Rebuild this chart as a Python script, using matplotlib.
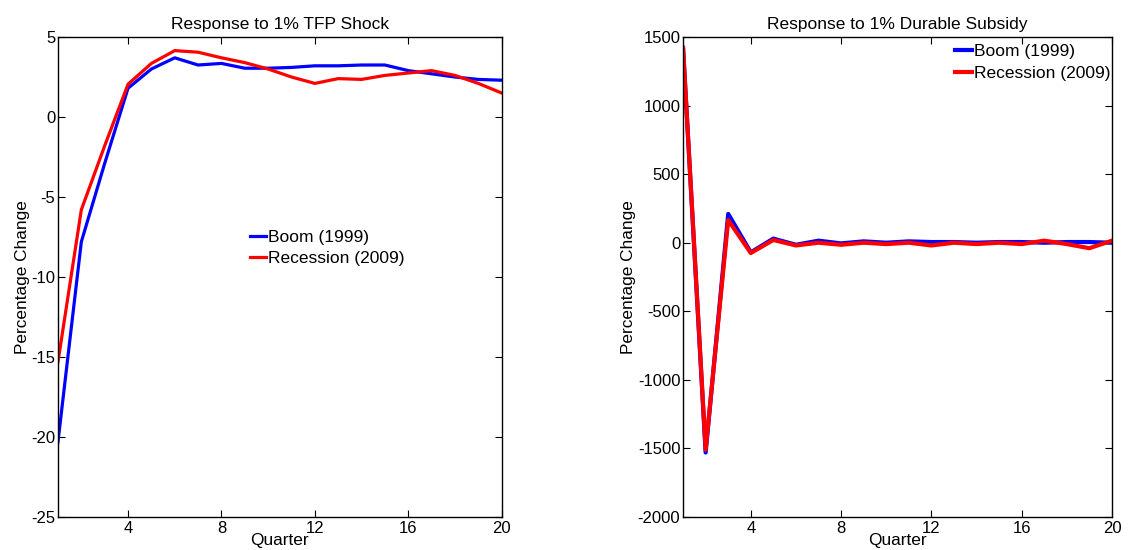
import numpy as np
import matplotlib
matplotlib.use('Agg')
import matplotlib.pyplot as plt

plt.rcParams['font.family'] = ['Liberation Sans', 'DejaVu Sans']
plt.rcParams['axes.unicode_minus'] = False

quarters = np.arange(1, 21)

# Response to TFP shock
tfp_boom = [-20.3, -7.8, -2.9, 1.8, 3.0, 3.7, 3.25, 3.35, 3.05, 3.05,
            3.1, 3.2, 3.2, 3.25, 3.25, 2.9, 2.7, 2.5, 2.35, 2.3]
tfp_recession = [-15.3, -5.8, -1.8, 2.05, 3.35, 4.15, 4.05, 3.7, 3.4, 3.0,
                 2.5, 2.1, 2.4, 2.35, 2.6, 2.75, 2.9, 2.6, 2.1, 1.5]

# Response to durable subsidy
sub_boom = [1420, -1530, 210, -70, 30, -15, 15, -5, 10, 0,
            10, 5, 5, 0, 5, 5, 0, 5, 5, 0]
sub_recession = [1420, -1510, 165, -75, 20, -20, 0, -15, 0, -10,
                 0, -20, 0, -10, 0, -10, 15, -10, -40, 15]

series_labels = ['Boom (1999)', 'Recession (2009)']
xticks = [4, 8, 12, 16, 20]

fig = plt.figure(figsize=(11.48, 5.5), dpi=100)
ax1 = fig.add_axes([0.0505, 0.06, 0.3865, 0.8727])
ax2 = fig.add_axes([0.595, 0.06, 0.3736, 0.8727])


def style_axis(ax, title, ylim, yticks):
    ax.set_xlim(1, 20)
    ax.set_ylim(*ylim)
    ax.set_xticks(xticks)
    ax.set_yticks(yticks)
    ax.tick_params(direction='in', top=True, right=True, labelsize=12,
                   length=5, width=0.8, pad=3)
    ax.tick_params(axis='y', pad=2)
    for s in ax.spines.values():
        s.set_linewidth(1.0)
    ax.set_title(title, fontsize=12.5, pad=6)
    # reference crops this label at the bottom edge; keep it just inside
    ax.set_xlabel('Quarter', fontsize=12.4, labelpad=-2)
    ax.set_ylabel('Percentage Change', fontsize=12.4, labelpad=1)


ax1.plot(quarters, tfp_boom, color='#0000ff', lw=2.3, label=series_labels[0])
ax1.plot(quarters, tfp_recession, color='#ff0000', lw=2.3, label=series_labels[1])
style_axis(ax1, 'Response to 1% TFP Shock', (-25, 5), [-25, -20, -15, -10, -5, 0, 5])
ax1.legend(loc='upper left', bbox_to_anchor=(0.432, 0.598), frameon=False,
           fontsize=12.5, handlelength=0.95, handletextpad=0.1,
           labelspacing=0.35, borderpad=0, borderaxespad=0)

ax2.plot(quarters, sub_boom, color='#0000ff', lw=3.0, label=series_labels[0])
ax2.plot(quarters, sub_recession, color='#ff0000', lw=3.0, label=series_labels[1])
style_axis(ax2, 'Response to 1% Durable Subsidy', (-2000, 1500),
           [-2000, -1500, -1000, -500, 0, 500, 1000, 1500])
ax2.legend(loc='upper left', bbox_to_anchor=(0.635, 0.985), frameon=False,
           fontsize=12.5, handlelength=0.95, handletextpad=0.1,
           labelspacing=0.35, borderpad=0, borderaxespad=0)

fig.savefig('out.png', dpi=100)
